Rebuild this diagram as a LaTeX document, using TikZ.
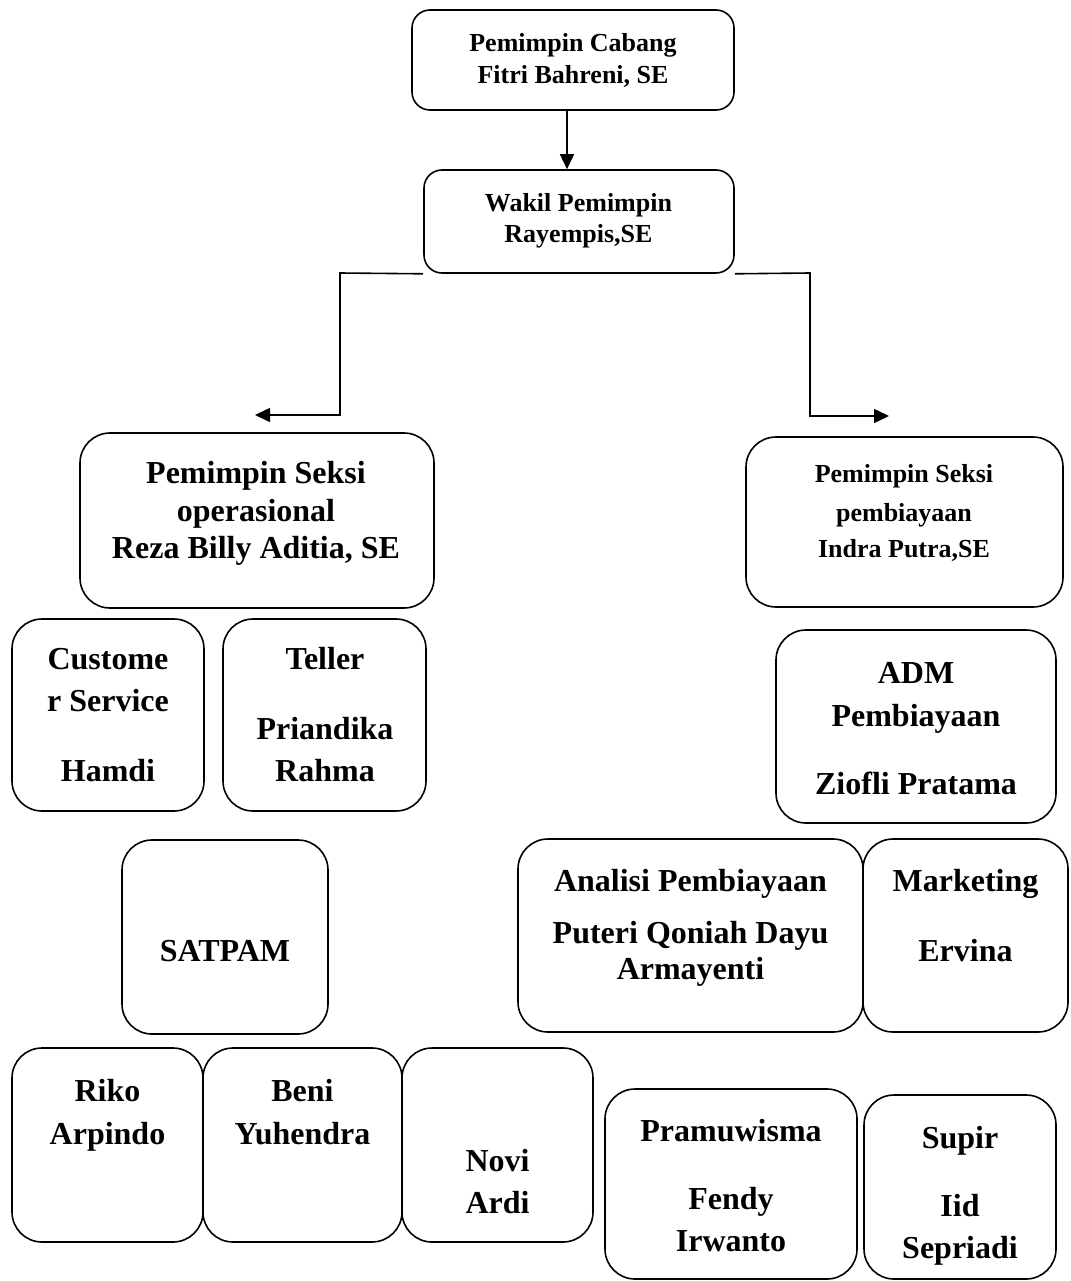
\documentclass[tikz,border=0pt]{standalone}
\usepackage{fontspec}
\setmainfont{Liberation Serif}
\usetikzlibrary{arrows.meta}
\tikzset{
  box/.style={draw, line width=1.6pt, rounded corners=30pt, inner sep=0pt},
  sbox/.style={draw, line width=1.6pt, rounded corners=18pt, inner sep=0pt},
  txt/.style={anchor=base, inner sep=0pt, font=\bfseries\fontsize{32}{38}\selectfont},
  stxt/.style={anchor=base, inner sep=0pt, font=\bfseries\fontsize{26}{31}\selectfont},
  conn/.style={line width=1.6pt, -{Triangle[length=15pt,width=14pt]}}
}
\begin{document}
\begin{tikzpicture}[x=1pt,y=-1pt]
\useasboundingbox (0,0) rectangle (1070,1281);
% boxes
\node[sbox, minimum width=322pt, minimum height=100pt] (cab) at (573,60) {};
\node[sbox, minimum width=310pt, minimum height=103pt] (wak) at (579,221.5) {};
\node[box, minimum width=354pt, minimum height=175pt] (sop) at (257,520.5) {};
\node[box, minimum width=317pt, minimum height=170pt] (spb) at (904.5,522) {};
\node[box, minimum width=192pt, minimum height=192pt] (cs) at (108,715) {};
\node[box, minimum width=203pt, minimum height=192pt] (tel) at (324.5,715) {};
\node[box, minimum width=280pt, minimum height=193pt] (adm) at (916,726.5) {};
\node[box, minimum width=206pt, minimum height=194pt] (sat) at (225,937) {};
\node[box, minimum width=191pt, minimum height=194pt] (riko) at (107.5,1145) {};
\node[box, minimum width=199pt, minimum height=194pt] (beni) at (302.5,1145) {};
\node[box, minimum width=191pt, minimum height=194pt] (novi) at (497.5,1145) {};
\node[box, minimum width=345pt, minimum height=193pt] (ana) at (690.5,935.5) {};
\node[box, minimum width=205pt, minimum height=193pt] (mkt) at (965.5,935.5) {};
\node[box, minimum width=252pt, minimum height=190pt] (pra) at (731,1184) {};
\node[box, minimum width=192pt, minimum height=184pt] (sup) at (960,1187) {};
% texts
\node[stxt] (cab1) at (573,52) {Pemimpin Cabang};
\node[stxt] (cab2) at (573,84) {Fitri Bahreni, SE};
\node[stxt] (wak1) at (578.5,212) {Wakil Pemimpin};
\node[stxt] (wak2) at (578.5,243) {Rayempis,SE};
\node[txt] (sop1) at (256,483) {Pemimpin Seksi};
\node[txt] (sop2) at (256,521) {operasional};
\node[txt] (sop3) at (256,558) {Reza Billy Aditia, SE};
\node[stxt] (spb1) at (904,482) {Pemimpin Seksi};
\node[stxt] (spb2) at (904,521) {pembiayaan};
\node[stxt] (spb3) at (904,557) {Indra Putra,SE};
\node[txt] (cs1) at (108,669) {Custome};
\node[txt] (cs2) at (108,711) {r Service};
\node[txt] (cs3) at (108,781) {Hamdi};
\node[txt] (tel1) at (325,669) {Teller};
\node[txt] (tel2) at (325,739) {Priandika};
\node[txt] (tel3) at (325,781) {Rahma};
\node[txt] (adm1) at (916,683) {ADM};
\node[txt] (adm2) at (916,726) {Pembiayaan};
\node[txt] (adm3) at (916,794) {Ziofli Pratama};
\node[txt] (sat1) at (225,961) {SATPAM};
\node[txt] (riko1) at (107.5,1101) {Riko};
\node[txt] (riko2) at (107.5,1144) {Arpindo};
\node[txt] (beni1) at (302.5,1101) {Beni};
\node[txt] (beni2) at (302.5,1144) {Yuhendra};
\node[txt] (novi1) at (497.5,1171) {Novi};
\node[txt] (novi2) at (497.5,1213) {Ardi};
\node[txt] (ana1) at (690.5,891) {Analisi Pembiayaan};
\node[txt] (ana2) at (690.5,943) {Puteri Qoniah Dayu};
\node[txt] (ana3) at (690.5,979) {Armayenti};
\node[txt] (mkt1) at (965.5,891) {Marketing};
\node[txt] (mkt2) at (965.5,961) {Ervina};
\node[txt] (pra1) at (731,1141) {Pramuwisma};
\node[txt] (pra2) at (731,1209) {Fendy};
\node[txt] (pra3) at (731,1251) {Irwanto};
\node[txt] (sup1) at (960,1148) {Supir};
\node[txt] (sup2) at (960,1216) {Iid};
\node[txt] (sup3) at (960,1258) {Sepriadi};
% connectors
\coordinate (lA) at (255,415);
\coordinate (rA) at (889,416);
\draw[conn] (cab.south -| 567,0) -- (wak.north -| 567,0);
\draw[conn] (wak.south west) -- (340,273) |- (lA);
\draw[conn] (wak.south east) -- (810,273) |- (rA);
\end{tikzpicture}
\end{document}
